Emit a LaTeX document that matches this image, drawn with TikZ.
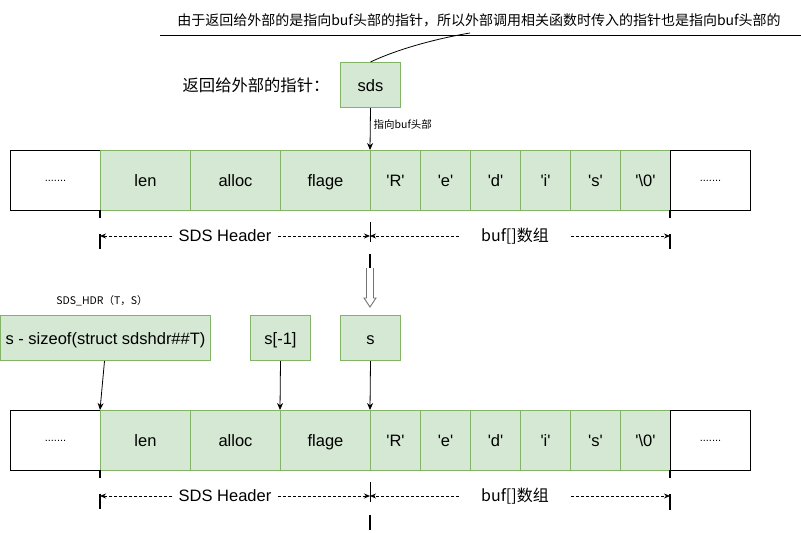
\documentclass[tikz,border=0pt]{standalone}
\usepackage{fontspec}
\setmainfont{Liberation Sans}
\newfontfamily\cjk{Noto Sans CJK SC}
\usetikzlibrary{arrows.meta}
\definecolor{gfill}{HTML}{D5E8D4}
\definecolor{gline}{HTML}{82B366}
\newcommand\sq{\textquotesingle}
\begin{document}
\begin{tikzpicture}[x=1pt,y=-1pt,
  base/.style={inner sep=0pt, anchor=north west, line width=1pt, font=\fontsize{16.5}{19}\selectfont, text height=12pt, text depth=0pt},
  cell/.style={base, draw=gline, fill=gfill, minimum height=60pt},
  wcell/.style={base, draw=black, fill=white, minimum height=60pt, font=\fontsize{11}{12}\selectfont, text height=2pt},
  pbox/.style={base, draw=gline, fill=gfill, minimum height=45pt},
  arr/.style={line width=0.8pt, -{Stealth[length=7pt,width=6pt]}},
  dim/.style={line width=0.8pt, dash pattern=on 3pt off 2pt, -{Stealth[length=6pt,width=5pt]}},
  tick/.style={line width=1.6pt},
  thin tick/.style={line width=0.9pt},
  lbl/.style={font=\fontsize{16.5}{19}\selectfont, inner sep=0pt}
]
\useasboundingbox (0,0) rectangle (801,533);

\newcommand\sdsrow[2]{%
  \node[wcell, minimum width=90pt] (#1L) at (10,#2) {.......};
  \node[cell, minimum width=90pt] (#1len) at (100,#2) {len};
  \node[cell, minimum width=90pt] (#1alloc) at (190,#2) {alloc};
  \node[cell, minimum width=90pt] (#1flage) at (280,#2) {flage};
  \node[cell, minimum width=50pt] (#1R) at (370,#2) {\sq R\sq};
  \node[cell, minimum width=50pt] (#1e) at (420,#2) {\sq e\sq};
  \node[cell, minimum width=50pt] (#1d) at (470,#2) {\sq d\sq};
  \node[cell, minimum width=50pt] (#1i) at (520,#2) {\sq i\sq};
  \node[cell, minimum width=50pt] (#1s) at (570,#2) {\sq s\sq};
  \node[cell, minimum width=50pt] (#1z) at (620,#2) {\sq\textbackslash0\sq};
  \node[wcell, minimum width=80pt] (#1Rt) at (670,#2) {.......};
}

% ---------- top annotation ----------
\node[inner sep=0pt, font=\cjk\fontsize{14}{16}\selectfont] (note) at (479,20)
  {由于返回给外部的是指向buf头部的指针，所以外部调用相关函数时传入的指针也是指向buf头部的};
\coordinate (nl) at (160,35);
\coordinate (nr) at (801,35);
\coordinate (nc) at (470,33);
\draw[line width=1pt] (nl) -- (nr);

\node[inner sep=0pt, font=\cjk\fontsize{16.3}{19}\selectfont] (retlbl) at (256,85) {返回给外部的指针：};
\node[pbox, minimum width=60pt] (sds) at (340,62) {sds};
\draw[line width=0.8pt] (sds.north) .. controls (400,48) and (440,38) .. (nc);

% ---------- row 1 ----------
\sdsrow{a}{150}
\draw[arr] (sds.south) -- node[right=3pt, pos=0.4, inner sep=0pt, font=\cjk\fontsize{10.5}{12}\selectfont] {指向buf头部} (aR.north west);

% dimension row 1
\coordinate (a100) at (100,236);
\coordinate (a370) at (370,236);
\coordinate (a670) at (670,236);
\node[lbl] (ahdr) at (225,236) {SDS Header};
\node[lbl, font=\cjk\fontsize{16}{19}\selectfont] (abuf) at (515,236) {buf[]数组};
\draw[dim] ([xshift=-6pt]ahdr.west) -- (a100);
\draw[dim] ([xshift=6pt]ahdr.east) -- (a370);
\draw[dim] ([xshift=-22pt]abuf.west) -- (a370);
\draw[dim] ([xshift=22pt]abuf.east) -- (a670);
\draw[tick] (100,210) -- (100,218);
\draw[tick] (100,234) -- (100,249);
\draw[tick] (670,210) -- (670,218);
\draw[tick] (670,234) -- (670,249);
\draw[thin tick] (370,222) -- (370,242);
\draw[tick] (370,254) -- (370,268);

% hollow arrow
\coordinate (ha) at (370,268);
\draw[draw=black!55, line width=0.9pt, fill=white]
  (366.5,268) -- (366.5,298) -- (364,298) -- (370,307) -- (376,298) -- (373.5,298) -- (373.5,268);

% ---------- pointer boxes ----------
\node[inner sep=0pt, font=\cjk\fontsize{10.5}{12}\selectfont] (hdrlbl) at (102,301) {SDS\_HDR（T，S）};
\node[pbox, minimum width=210pt] (sz) at (0,315) {s - sizeof(struct sdshdr\#\#T)};
\node[pbox, minimum width=60pt] (sm1) at (250,315) {s[-1]};
\node[pbox, minimum width=60pt] (sp) at (340,315) {s};

% ---------- row 2 ----------
\sdsrow{b}{410}
\draw[arr] ([xshift=-1pt]sz.south) -- (blen.north west);
\draw[arr] (sm1.south) -- (bflage.north west);
\draw[arr] (sp.south) -- (bR.north west);

% dimension row 2
\coordinate (b100) at (100,496);
\coordinate (b370) at (370,496);
\coordinate (b670) at (670,496);
\node[lbl] (bhdr) at (225,496) {SDS Header};
\node[lbl, font=\cjk\fontsize{16}{19}\selectfont] (bbuf) at (515,496) {buf[]数组};
\draw[dim] ([xshift=-6pt]bhdr.west) -- (b100);
\draw[dim] ([xshift=6pt]bhdr.east) -- (b370);
\draw[dim] ([xshift=-22pt]bbuf.west) -- (b370);
\draw[dim] ([xshift=22pt]bbuf.east) -- (b670);
\draw[tick] (100,470) -- (100,478);
\draw[tick] (100,494) -- (100,509);
\draw[tick] (670,470) -- (670,478);
\draw[tick] (670,494) -- (670,510);
\draw[thin tick] (370,482) -- (370,502);
\draw[tick] (370,515) -- (370,530);
\end{tikzpicture}
\end{document}
